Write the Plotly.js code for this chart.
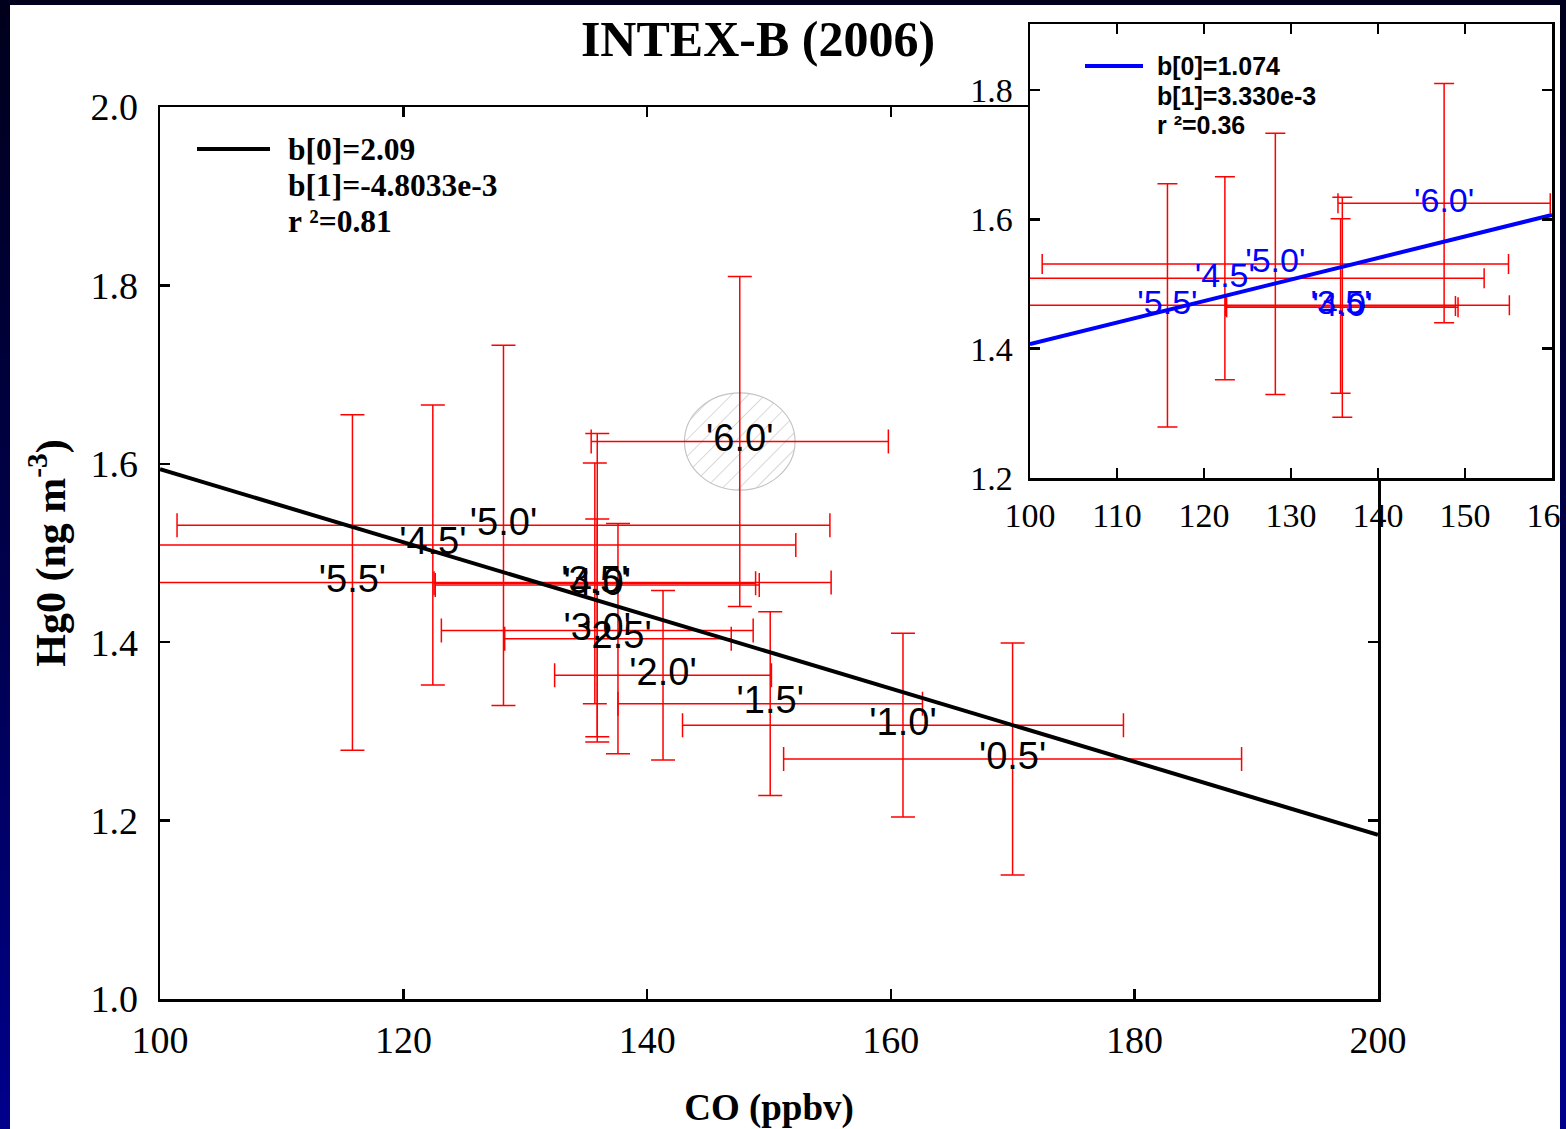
<!DOCTYPE html>
<html>
<head>
<meta charset="utf-8">
<script src="https://cdn.plot.ly/plotly-3.0.1.min.js"></script>
<style>
  html, body { margin: 0; padding: 0; }
  body {
    width: 1566px; height: 1129px; overflow: hidden;
    background: linear-gradient(to bottom, #00001c 0%, #000050 55%, #00008c 100%);
  }
  #chart { position: absolute; left: 10px; top: 5px; width: 1550px; height: 1124px; background: #fff; overflow: hidden; }
</style>
</head>
<body>
<div id="chart"></div>
<script>
// ---- data ----
const labels = ["'0.5'", "'1.0'", "'1.5'", "'2.0'", "'2.5'", "'3.0'", "'3.5'", "'4.0'", "'4.5'", "'5.0'", "'5.5'", "'6.0'"];
const co     = [170.0, 161.0, 150.1, 141.3, 137.6, 135.9, 135.7, 135.9, 122.4, 128.2, 115.8, 147.6];
const coErr  = [18.8, 18.1, 12.5, 8.9, 9.3, 12.8, 13.2, 13.3, 29.8, 26.8, 39.3, 12.2];
const hg     = [1.269, 1.307, 1.331, 1.363, 1.404, 1.413, 1.466, 1.464, 1.509, 1.531, 1.467, 1.625];
const hgErr  = [0.130, 0.103, 0.103, 0.095, 0.129, 0.125, 0.135, 0.170, 0.157, 0.202, 0.188, 0.185];

// points shown in the inset (3.5 .. 6.0)
const insetIdx = [6, 7, 8, 9, 10, 11];

// regression lines (as drawn)
const mainFitIntercept = 2.004, mainFitSlope = -0.0041;
const insetFitIntercept = 1.074, insetFitSlope = 0.00333;

const mainLegend  = ["b[0]=2.09", "b[1]=-4.8033e-3", "r ²=0.81"];
const insetLegend = ["b[0]=1.074", "b[1]=3.330e-3", "r ²=0.36"];

const mainXTicks = [100, 120, 140, 160, 180, 200];
const mainYTicks = [1.0, 1.2, 1.4, 1.6, 1.8, 2.0];
const insetXTicks = [100, 110, 120, 130, 140, 150, 160];
const insetYTicks = [1.2, 1.4, 1.6, 1.8];

// highlighted point (hatched ellipse) and its half sizes in data units
const highlightIdx = 11;
const highlightRx = 4.62, highlightRy = 0.0556;

// ---- layout constants ----
const SERIF = '"Liberation Serif", "Times New Roman", serif';
const SANS = '"Liberation Sans", Arial, sans-serif';
const W = 1550, H = 1124;
const M = {l: 150, r: 8, t: 19, b: 130};
const PW = W - M.l - M.r, PH = H - M.t - M.b;
// page-pixel -> paper fraction helpers (page offset 10,5)
const px = (X) => (X - 10 - M.l) / PW;
const py = (Y) => (H - M.b - (Y - 5)) / PH;

const mainX = [0, 0.875], mainY = [0, 892 / PH];
const insX = [px(1030), 1.0], insY = [py(478), 1.0];

const mainRange = [100, 200];
const insRange = [100, 160];

const pick = (arr) => insetIdx.map(i => arr[i]);
const red = '#ff0000';

const traces = [
  {
    x: co, y: hg, text: labels, mode: 'text', type: 'scatter',
    textposition: 'middle center',
    textfont: {family: SANS, size: 38, color: '#000'},
    error_x: {type: 'data', array: coErr, color: red, thickness: 1.5, width: 12},
    error_y: {type: 'data', array: hgErr, color: red, thickness: 1.5, width: 12},
    xaxis: 'x', yaxis: 'y', showlegend: false, hoverinfo: 'skip'
  },
  {
    x: mainRange, y: mainRange.map(v => mainFitIntercept + mainFitSlope * v),
    mode: 'lines', line: {color: '#000', width: 4}, xaxis: 'x', yaxis: 'y', showlegend: false
  },
  {
    x: pick(co), y: pick(hg), text: pick(labels), mode: 'text', type: 'scatter',
    textposition: 'middle center',
    textfont: {family: SANS, size: 34, color: '#0000ff'},
    error_x: {type: 'data', array: pick(coErr), color: red, thickness: 1.5, width: 10},
    error_y: {type: 'data', array: pick(hgErr), color: red, thickness: 1.5, width: 10},
    xaxis: 'x2', yaxis: 'y2', showlegend: false, hoverinfo: 'skip'
  },
  {
    x: insRange, y: insRange.map(v => insetFitIntercept + insetFitSlope * v),
    mode: 'lines', line: {color: '#0000ff', width: 4}, xaxis: 'x2', yaxis: 'y2', showlegend: false
  }
];

const axisCommon = {
  showline: true, linecolor: '#000', linewidth: 2.5, mirror: 'ticks',
  ticks: 'inside', ticklen: 10, tickwidth: 2.5, tickcolor: '#000',
  showgrid: false, zeroline: false, fixedrange: true, ticklabeloverflow: 'allow'
};

const hatchSvg = "<svg xmlns='http://www.w3.org/2000/svg' width='114' height='100' viewBox='0 0 114 100' preserveAspectRatio='none'>" +
  "<defs><pattern id='h' width='12' height='12' patternUnits='userSpaceOnUse' patternTransform='rotate(45)'>" +
  "<line x1='0' y1='0' x2='0' y2='12' stroke='#bdbdbd' stroke-width='1.2'/></pattern></defs>" +
  "<ellipse cx='57' cy='50' rx='56' ry='49' fill='url(#h)' stroke='#c4c4c4' stroke-width='1.2'/></svg>";

const legendLines = (items, x, y0, dy, font) => items.map((t, i) => ({
  xref: 'paper', yref: 'paper', x: px(x), y: py(y0 + i * dy),
  xanchor: 'left', yanchor: 'middle', showarrow: false,
  text: '<b>' + t + '</b>', font: font
}));

const layout = {
  width: W, height: H,
  margin: M,
  paper_bgcolor: '#ffffff', plot_bgcolor: '#ffffff',
  showlegend: false,
  title: {
    text: '<b>INTEX-B (2006)</b>', xref: 'container', yref: 'container',
    x: (758 - 10) / W, y: 1 - (38 - 5) / H, xanchor: 'center', yanchor: 'middle',
    font: {family: SERIF, size: 50, color: '#000'}
  },
  xaxis: Object.assign({}, axisCommon, {
    domain: mainX, anchor: 'y', range: mainRange, tickvals: mainXTicks,
    tickfont: {family: SERIF, size: 38, color: '#000'}, ticklabelstandoff: 6,
    title: {text: '<b>CO (ppbv)</b>', font: {family: SERIF, size: 37, color: '#000'}, standoff: 35}
  }),
  yaxis: Object.assign({}, axisCommon, {
    domain: mainY, anchor: 'x', range: [1.0, 2.0], tickvals: mainYTicks, tickformat: '.1f',
    tickfont: {family: SERIF, size: 38, color: '#000'}, ticklabelstandoff: 12,
    title: {text: '<b>Hg0 (ng m<sup>-3</sup>)</b>', font: {family: SERIF, size: 42, color: '#000'}, standoff: 12}
  }),
  xaxis2: Object.assign({}, axisCommon, {
    domain: insX, anchor: 'y2', range: insRange, tickvals: insetXTicks,
    tickfont: {family: SERIF, size: 34, color: '#000'}, ticklabelstandoff: 6
  }),
  yaxis2: Object.assign({}, axisCommon, {
    domain: insY, anchor: 'x2', range: [1.2, 1.2 + 454 / 646.7], tickvals: insetYTicks, tickformat: '.1f',
    tickfont: {family: SERIF, size: 34, color: '#000'}, ticklabelstandoff: 8
  }),
  images: [{
    source: 'data:image/svg+xml;charset=utf-8,' + encodeURIComponent(hatchSvg),
    xref: 'x', yref: 'y',
    x: co[highlightIdx] - highlightRx, y: hg[highlightIdx] + highlightRy,
    sizex: 2 * highlightRx, sizey: 2 * highlightRy,
    sizing: 'stretch', xanchor: 'left', yanchor: 'top', layer: 'below'
  }],
  shapes: [
    {type: 'line', xref: 'paper', yref: 'paper', x0: px(197), x1: px(270), y0: py(149), y1: py(149),
     line: {color: '#000', width: 4}},
    {type: 'line', xref: 'paper', yref: 'paper', x0: px(1085), x1: px(1143), y0: py(66), y1: py(66),
     line: {color: '#0000ff', width: 4}}
  ],
  annotations: [].concat(
    legendLines(mainLegend, 286, 149, 36, {family: SERIF, size: 31.5, color: '#000'}),
    legendLines(insetLegend, 1155, 66, 29.5, {family: SANS, size: 25, color: '#000'})
  )
};

Plotly.newPlot('chart', traces, layout, {staticPlot: true, displayModeBar: false});
</script>
</body>
</html>
